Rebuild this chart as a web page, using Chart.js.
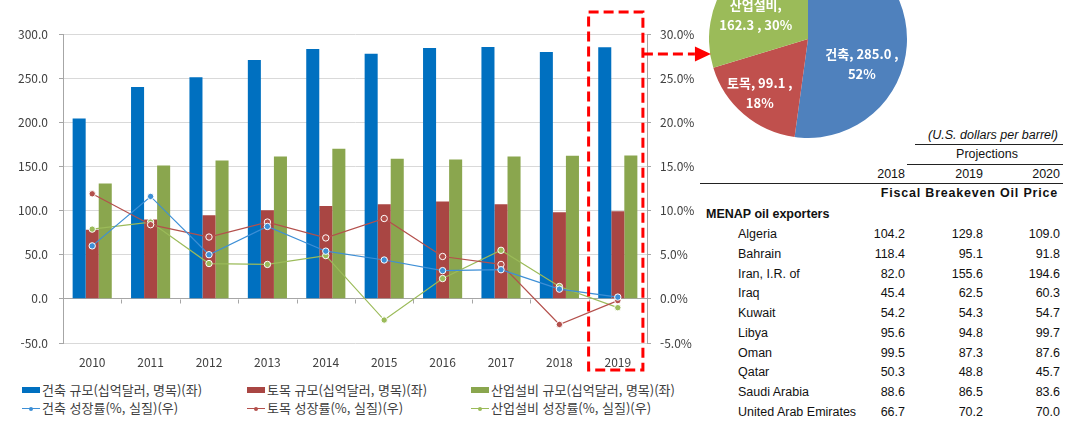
<!DOCTYPE html>
<html lang="ko">
<head>
<meta charset="utf-8">
<title>건설 시장 규모 및 성장률</title>
<script src="https://cdn.jsdelivr.net/npm/chart.js@4.4.1/dist/chart.umd.min.js"></script>
<style>
  html, body { margin: 0; padding: 0; background: #fff; }
  body { width: 1072px; height: 426px; overflow: hidden; position: relative; font-family: 'Noto Sans CJK KR', sans-serif; }
  #mainWrap { position: absolute; left: 0; top: 0; width: 720px; height: 380px; z-index: 2; }
  #pieWrap { position: absolute; left: 709px; top: -60px; width: 198px; height: 198px; z-index: 1; }
  .lg { position: absolute; font-size: 13px; color: #404040; line-height: 18px; white-space: nowrap; }
  .lg .box { display: inline-block; width: 18px; height: 6px; margin-right: 2px; vertical-align: middle; position: relative; top: -1px; }
  .lg .ln { display: inline-block; width: 18px; height: 10px; margin-right: 2px; vertical-align: middle; position: relative; top: -1px; }
  .lg .ln i { position: absolute; left: 0; top: 5px; width: 18px; height: 1px; }
  .lg .ln b { position: absolute; left: 7px; top: 3.5px; width: 4px; height: 4px; border-radius: 2px; }
  .tb { position: absolute; font-family: 'Liberation Sans', Arial, sans-serif; font-size: 12.5px; color: #111; line-height: 16px; white-space: nowrap; }
  .num { width: 60px; text-align: right; }
  .hr { position: absolute; height: 0; border-top: 1px solid #222; }
</style>
</head>
<body>
<div id="mainWrap"><canvas id="mainChart" width="720" height="380"></canvas></div>
<div id="pieWrap"><canvas id="pieChart" width="198" height="198"></canvas></div>
<div id="legend"></div>
<div id="table"></div>
<script>
// 연도별 규모(십억달러)와 성장률(%)
const years = ['2010', '2011', '2012', '2013', '2014', '2015', '2016', '2017', '2018', '2019'];
const archSize = [204.2, 240.0, 250.9, 270.6, 283.0, 277.7, 284.2, 285.3, 279.6, 285.0];
const civilSize = [78.4, 89.8, 94.7, 100.4, 105.3, 107.2, 110.2, 107.2, 98.1, 99.1];
const plantSize = [130.7, 151.0, 156.7, 161.2, 169.9, 158.6, 157.8, 161.2, 162.0, 162.3];
const archGrowth = [6.0, 11.6, 5.0, 8.2, 5.4, 4.4, 3.2, 3.3, 1.1, 0.2];
const civilGrowth = [11.9, 8.4, 7.0, 8.7, 6.9, 9.1, 4.8, 3.9, -2.9, -0.2];
const plantGrowth = [7.9, 8.7, 4.0, 3.9, 4.9, -2.4, 2.3, 5.5, 1.4, -1.0];
const pieNames = ['건축', '토목', '산업설비'];

// Fiscal Breakeven Oil Price 표
const tableYears = ['2018', '2019', '2020'];
const countries = ['Algeria', 'Bahrain', 'Iran, I.R. of', 'Iraq', 'Kuwait', 'Libya', 'Oman', 'Qatar', 'Saudi Arabia', 'United Arab Emirates'];
const oil2018 = [104.2, 118.4, 82.0, 45.4, 54.2, 95.6, 99.5, 50.3, 88.6, 66.7];
const oil2019 = [129.8, 95.1, 155.6, 62.5, 54.3, 94.8, 87.3, 48.8, 86.5, 70.2];
const oil2020 = [109.0, 91.8, 194.6, 60.3, 54.7, 99.7, 87.6, 45.7, 83.6, 70.0];

const tickFont = { family: "'Noto Sans CJK KR', sans-serif", size: 12 };
const axisGray = '#a6a6a6';

function lineSet(label, data, color) {
  return {
    type: 'line', label: label, data: data, yAxisID: 'y1', order: 0,
    borderColor: color, backgroundColor: color, borderWidth: 1.2, tension: 0,
    pointRadius: 3.2, pointBackgroundColor: color, pointBorderColor: '#fff', pointBorderWidth: 1
  };
}

function barSet(label, data, color) {
  return {
    type: 'bar', label: label, data: data, yAxisID: 'y', order: 1,
    backgroundColor: color, borderWidth: 0, barPercentage: 1, categoryPercentage: 0.67
  };
}

const marks = {
  id: 'marks',
  afterDraw: function(chart) {
    const ctx = chart.ctx;
    const x = chart.scales.x, y = chart.scales.y, area = chart.chartArea;
    const cw = x.getPixelForValue(1) - x.getPixelForValue(0);
    const y0 = Math.round(y.getPixelForValue(0)) + 0.5;
    ctx.save();
    // 0 기준선의 항목 구분 눈금
    ctx.strokeStyle = axisGray;
    ctx.lineWidth = 1;
    ctx.beginPath();
    for (let i = 0; i <= years.length; i++) {
      const px = Math.round(x.getPixelForValue(0) - cw / 2 + i * cw) + 0.5;
      ctx.moveTo(px, y0);
      ctx.lineTo(px, y0 + 4);
    }
    ctx.stroke();

    // 2019년 강조 박스와 화살표
    const last = years.length - 1;
    const bx0 = x.getPixelForValue(last) - cw * 0.5;
    const bx1 = x.getPixelForValue(last) + cw * 0.43;
    const by0 = area.top - 22, by1 = area.bottom + 27;
    ctx.strokeStyle = '#ff0000';
    ctx.fillStyle = '#ff0000';
    ctx.lineWidth = 3;
    ctx.setLineDash([10, 5]);
    ctx.strokeRect(bx0, by0, bx1 - bx0, by1 - by0);
    const ay = area.top + 20;
    ctx.beginPath();
    ctx.moveTo(bx1, ay);
    ctx.lineTo(bx1 + 52, ay);
    ctx.stroke();
    ctx.setLineDash([]);
    ctx.beginPath();
    ctx.moveTo(bx1 + 52, ay - 7.5);
    ctx.lineTo(bx1 + 68, ay);
    ctx.lineTo(bx1 + 52, ay + 7.5);
    ctx.closePath();
    ctx.fill();
    ctx.restore();
  }
};

const mainChart = new Chart(document.getElementById('mainChart'), {
  data: {
    labels: years,
    datasets: [
      barSet('건축 규모(십억달러, 명목)(좌)', archSize, '#0070c0'),
      barSet('토목 규모(십억달러, 명목)(좌)', civilSize, '#a94643'),
      barSet('산업설비 규모(십억달러, 명목)(좌)', plantSize, '#8aa64e'),
      lineSet('건축 성장률(%, 실질)(우)', archGrowth, '#3d8fd6'),
      lineSet('토목 성장률(%, 실질)(우)', civilGrowth, '#b4504c'),
      lineSet('산업설비 성장률(%, 실질)(우)', plantGrowth, '#9bbb59')
    ]
  },
  options: {
    responsive: false,
    animation: false,
    layout: { padding: { top: 34, left: 0, right: 0, bottom: 0 } },
    plugins: { legend: { display: false }, tooltip: { enabled: false } },
    scales: {
      x: {
        type: 'category', offset: true,
        grid: { display: false, drawTicks: false, tickLength: 0 },
        border: { display: false },
        ticks: { color: '#404040', font: tickFont, padding: 12, maxRotation: 0 },
        afterFit: function(s) { s.height = 37; }
      },
      y: {
        position: 'left', min: -50, max: 300,
        ticks: { stepSize: 50, color: '#404040', font: tickFont, padding: 11,
          callback: function(v) { return v.toFixed(1); } },
        grid: {
          color: function(c) { return c.tick && c.tick.value === 0 ? axisGray : '#d9d9d9'; },
          tickColor: axisGray, tickLength: 4
        },
        border: { color: axisGray },
        afterFit: function(s) { s.width = 63; }
      },
      y1: {
        position: 'right', min: -5, max: 30,
        ticks: { stepSize: 5, color: '#404040', font: tickFont, padding: 9,
          callback: function(v) { return v.toFixed(1) + '%'; } },
        grid: { drawOnChartArea: false, tickColor: axisGray, tickLength: 4 },
        border: { color: axisGray },
        afterFit: function(s) { s.width = 73; }
      }
    }
  },
  plugins: [marks]
});

// 범례
const legendCols = [22, 247, 471];
const legendRows = [390, 408];
const legendBox = document.getElementById('legend');
mainChart.data.datasets.forEach(function(ds, i) {
  const item = document.createElement('div');
  item.className = 'lg';
  item.style.left = legendCols[i % 3] + 'px';
  item.style.top = (legendRows[Math.floor(i / 3)] - 9) + 'px';
  const sw = document.createElement('span');
  if (ds.type === 'bar') {
    sw.className = 'box';
    sw.style.background = ds.backgroundColor;
  } else {
    sw.className = 'ln';
    sw.innerHTML = '<i style="background:' + ds.borderColor + '"></i><b style="background:' + ds.borderColor + '"></b>';
  }
  item.appendChild(sw);
  item.appendChild(document.createTextNode(ds.label));
  legendBox.appendChild(item);
});

// 2019년 구성비 파이
const pieValues = [archSize[years.length - 1], civilSize[years.length - 1], plantSize[years.length - 1]];
const pieShift = [21, 1.5, -12];
const pieDist = [0.6, 0.73, 0.58];
const pieBreakAfterName = [false, false, true];

const pieLabels = {
  id: 'pieLabels',
  afterDatasetsDraw: function(chart) {
    const ctx = chart.ctx;
    const meta = chart.getDatasetMeta(0);
    const total = pieValues.reduce(function(a, b) { return a + b; }, 0);
    ctx.save();
    ctx.fillStyle = '#fff';
    ctx.font = "bold 13px 'Noto Sans CJK KR', sans-serif";
    ctx.textAlign = 'center';
    ctx.textBaseline = 'middle';
    meta.data.forEach(function(arc, i) {
      const p = arc.getProps(['x', 'y', 'startAngle', 'endAngle', 'outerRadius'], true);
      const mid = (p.startAngle + p.endAngle) / 2 + pieShift[i] * Math.PI / 180;
      const r = p.outerRadius * pieDist[i];
      const cx = p.x + Math.cos(mid) * r;
      const cy = p.y + Math.sin(mid) * r;
      const v = pieValues[i].toFixed(1);
      const pct = Math.round(pieValues[i] / total * 100) + '%';
      const lines = pieBreakAfterName[i]
        ? [pieNames[i] + ',', v + ' , ' + pct]
        : [pieNames[i] + ', ' + v + ' ,', pct];
      ctx.fillText(lines[0], cx, cy - 10);
      ctx.fillText(lines[1], cx, cy + 10);
    });
    ctx.restore();
  }
};

new Chart(document.getElementById('pieChart'), {
  type: 'pie',
  data: {
    labels: pieNames,
    datasets: [{ data: pieValues, backgroundColor: ['#4f81bd', '#c0504d', '#9bbb59'], borderWidth: 0 }]
  },
  options: {
    responsive: false,
    animation: false,
    layout: { padding: 0 },
    plugins: { legend: { display: false }, tooltip: { enabled: false } }
  },
  plugins: [pieLabels]
});

// 표
const table = document.getElementById('table');
function addText(text, left, top, extra) {
  const d = document.createElement('div');
  d.className = 'tb' + (extra ? ' ' + extra : '');
  d.style.left = left + 'px';
  d.style.top = top + 'px';
  d.textContent = text;
  table.appendChild(d);
  return d;
}
function addRule(left, right, top) {
  const d = document.createElement('div');
  d.className = 'hr';
  d.style.left = left + 'px';
  d.style.top = top + 'px';
  d.style.width = (right - left) + 'px';
  table.appendChild(d);
}
const colRight = [905, 983, 1060];
const unit = addText('(U.S. dollars per barrel)', 858, 127);
unit.style.fontStyle = 'italic';
unit.style.width = '200px';
unit.style.textAlign = 'right';
addRule(915, 1063, 144);
const proj = addText('Projections', 927, 146);
proj.style.width = '120px';
proj.style.textAlign = 'center';
addRule(907, 1063, 164);
tableYears.forEach(function(yr, j) { addText(yr, colRight[j] - 60, 166, 'num'); });
addRule(700, 1063, 183);
const title = addText('Fiscal Breakeven Oil Price', 858, 185);
title.style.fontWeight = 'bold';
title.style.letterSpacing = '0.8px';
title.style.width = '200px';
title.style.textAlign = 'right';
const group = addText('MENAP oil exporters', 706, 206);
group.style.fontWeight = 'bold';
countries.forEach(function(name, i) {
  const top = 226 + i * 19.75;
  addText(name, 738, top);
  [oil2018, oil2019, oil2020].forEach(function(col, j) {
    addText(col[i].toFixed(1), colRight[j] - 60, top, 'num');
  });
});
</script>
</body>
</html>
